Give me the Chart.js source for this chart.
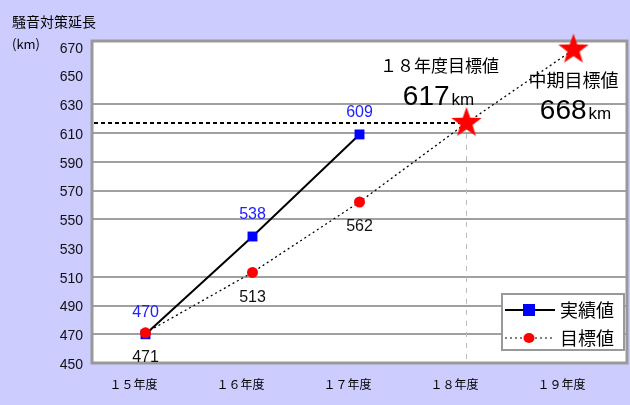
<!DOCTYPE html>
<html>
<head>
<meta charset="utf-8">
<script src="https://cdn.jsdelivr.net/npm/chart.js@4/dist/chart.umd.min.js"></script>
<style>
    html, body { margin: 0; padding: 0; background: #ccccff; }
    canvas { display: block; }
</style>
</head>
<body>
<canvas id="noiseChart" width="630" height="405"></canvas>
<script>
const years = ['１５年度', '１６年度', '１７年度', '１８年度', '１９年度'];
const actualValues = [470, 538, 609, null, null];
const targetValues = [471, 513, 562, 617, 668];
const yTicks = [450, 470, 490, 510, 530, 550, 570, 590, 610, 630, 650, 670];
const hiddenGrid = [450, 530, 650, 670];

const JP = '"Noto Sans CJK JP", sans-serif';
const NUM = '"Liberation Sans", Arial, sans-serif';

// filled red star used for the 18/19 target points
function makeStar(r, color) {
    const c = document.createElement('canvas');
    const size = Math.ceil(r * 2) + 2;
    c.width = c.height = size;
    const ctx = c.getContext('2d');
    ctx.fillStyle = color;
    ctx.beginPath();
    for (let i = 0; i < 10; i++) {
        const rad = i % 2 === 0 ? r : r * 0.4;
        const a = -Math.PI / 2 + i * Math.PI / 5;
        ctx.lineTo(size / 2 + rad * Math.cos(a), size / 2 + rad * Math.sin(a));
    }
    ctx.closePath();
    ctx.fill();
    return c;
}
const star = makeStar(16, '#ff0000');

// white plot area + gray frame
const plotFrame = {
    id: 'plotFrame',
    beforeDraw(chart) {
        const { ctx, chartArea: a } = chart;
        ctx.save();
        ctx.fillStyle = '#ffffff';
        ctx.fillRect(a.left, a.top, a.right - a.left, a.bottom - a.top);
        ctx.restore();
    },
    beforeDatasetsDraw(chart) {
        const { ctx, chartArea: a, scales } = chart;
        ctx.save();
        // guide lines for the 18年度 target
        const x18 = scales.x.getPixelForValue(3);
        const y617 = scales.y.getPixelForValue(targetValues[3]);
        ctx.strokeStyle = '#bbbbbb';
        ctx.lineWidth = 1;
        ctx.setLineDash([5, 6]);
        ctx.beginPath();
        ctx.moveTo(x18, y617);
        ctx.lineTo(x18, a.bottom);
        ctx.stroke();

        ctx.strokeStyle = '#999999';
        ctx.lineWidth = 3;
        ctx.setLineDash([]);
        ctx.strokeRect(a.left, a.top, a.right - a.left, a.bottom - a.top);

        ctx.strokeStyle = '#000000';
        ctx.lineWidth = 2;
        ctx.setLineDash([4, 3]);
        ctx.beginPath();
        ctx.moveTo(a.left + 2, y617);
        ctx.lineTo(x18, y617);
        ctx.stroke();
        ctx.restore();
    }
};

// value labels, notes and the legend box
const textLayer = {
    id: 'textLayer',
    afterDatasetsDraw(chart) {
        const { ctx, chartArea: a } = chart;
        const actualMeta = chart.getDatasetMeta(0);
        const targetMeta = chart.getDatasetMeta(1);
        ctx.save();
        ctx.textAlign = 'center';
        ctx.textBaseline = 'middle';
        ctx.font = '16px ' + NUM;

        ctx.fillStyle = '#2020ff';
        actualValues.forEach((v, i) => {
            if (v == null) return;
            const p = actualMeta.data[i];
            ctx.fillText(String(v), p.x, p.y - 22);
        });
        ctx.fillStyle = '#111111';
        targetValues.slice(0, 3).forEach((v, i) => {
            const p = targetMeta.data[i];
            ctx.fillText(String(v), p.x, p.y + 25);
        });

        // target notes
        const s18 = targetMeta.data[3];
        const s19 = targetMeta.data[4];
        ctx.fillStyle = '#000000';
        ctx.font = '17px ' + JP;
        ctx.fillText('１８年度目標値', s18.x - 27, s18.y - 57);
        ctx.font = '18px ' + JP;
        ctx.fillText('中期目標値', s19.x, s19.y + 31);

        drawValueKm(ctx, targetValues[3], s18.x - 28, s18.y - 18);
        drawValueKm(ctx, targetValues[4], s19.x + 2, s19.y + 69);

        // legend
        const lx = a.right - 125, ly = a.bottom - 69, lw = 122, lh = 56;
        ctx.fillStyle = '#ffffff';
        ctx.fillRect(lx, ly, lw, lh);
        ctx.strokeStyle = '#999999';
        ctx.lineWidth = 2;
        ctx.strokeRect(lx, ly, lw, lh);

        const r1 = ly + 16, r2 = ly + 44;
        ctx.strokeStyle = '#000000';
        ctx.lineWidth = 2;
        ctx.beginPath();
        ctx.moveTo(lx + 3, r1);
        ctx.lineTo(lx + 53, r1);
        ctx.stroke();
        ctx.fillStyle = '#0000ff';
        ctx.fillRect(lx + 21, r1 - 6, 12, 12);

        ctx.lineWidth = 1;
        ctx.setLineDash([2, 3]);
        ctx.beginPath();
        ctx.moveTo(lx + 3, r2);
        ctx.lineTo(lx + 53, r2);
        ctx.stroke();
        ctx.setLineDash([]);
        ctx.fillStyle = '#ff0000';
        ctx.beginPath();
        ctx.ellipse(lx + 27, r2, 5.5, 5, 0, 0, Math.PI * 2);
        ctx.fill();

        ctx.fillStyle = '#000000';
        ctx.font = '18px ' + JP;
        ctx.textAlign = 'left';
        ctx.fillText('実績値', lx + 58, r1);
        ctx.fillText('目標値', lx + 58, r2);
        ctx.restore();
    }
};

function drawValueKm(ctx, value, cx, baseline) {
    const num = String(value);
    ctx.save();
    ctx.textBaseline = 'alphabetic';
    ctx.textAlign = 'left';
    ctx.font = '28px ' + NUM;
    const w1 = ctx.measureText(num).width;
    ctx.font = '17px ' + NUM;
    const w2 = ctx.measureText('km').width;
    const x0 = cx - (w1 + w2 + 2) / 2;
    ctx.font = '28px ' + NUM;
    ctx.fillText(num, x0, baseline);
    ctx.font = '17px ' + NUM;
    ctx.fillText('km', x0 + w1 + 2, baseline);
    ctx.restore();
}

// axis title top-left
const axisTitle = {
    id: 'axisTitle',
    afterDraw(chart) {
        const { ctx } = chart;
        ctx.save();
        ctx.fillStyle = '#000000';
        ctx.textAlign = 'left';
        ctx.textBaseline = 'middle';
        ctx.font = '14px ' + JP;
        ctx.fillText('騒音対策延長', 12, 22);
        ctx.font = '13px ' + JP;
        ctx.fillText('(km)', 12, 44);
        ctx.restore();
    }
};

new Chart(document.getElementById('noiseChart'), {
    type: 'line',
    data: {
        labels: years,
        datasets: [
            {
                label: '実績値',
                data: actualValues,
                order: 1,
                borderColor: '#000000',
                borderWidth: 2,
                pointStyle: 'rect',
                pointRadius: 7,
                pointBackgroundColor: '#0000ff',
                pointBorderColor: '#0000ff',
                pointBorderWidth: 0,
                clip: false
            },
            {
                label: '目標値',
                data: targetValues,
                order: 0,
                borderColor: '#000000',
                borderWidth: 1.3,
                borderDash: [2, 3],
                pointStyle: ['circle', 'circle', 'circle', star, star],
                pointRadius: [5.5, 5.5, 5.5, 16, 16],
                pointBackgroundColor: '#ff0000',
                pointBorderColor: '#ff0000',
                pointBorderWidth: 0,
                clip: false
            }
        ]
    },
    options: {
        responsive: false,
        animation: false,
        devicePixelRatio: 1,
        layout: { autoPadding: false, padding: { top: 41, right: 3, left: 0, bottom: 0 } },
        plugins: {
            legend: { display: false },
            tooltip: { enabled: false }
        },
        scales: {
            x: {
                offset: true,
                grid: { display: false, drawTicks: false },
                border: { display: false },
                ticks: {
                    color: '#000000',
                    font: { family: JP, size: 12 },
                    padding: 14,
                    labelOffset: -12,
                    maxRotation: 0
                },
                afterFit(scale) {
                    scale.height = 42;
                    scale.paddingLeft = 0;
                    scale.paddingRight = 0;
                }
            },
            y: {
                min: 450,
                max: 674,
                afterBuildTicks(scale) {
                    scale.ticks = yTicks.map(v => ({ value: v }));
                },
                grid: {
                    drawTicks: false,
                    lineWidth: 2,
                    color: ctx => hiddenGrid.includes(ctx.tick && ctx.tick.value) ? 'rgba(0,0,0,0)' : '#a0a0a0'
                },
                border: { display: false },
                ticks: {
                    color: '#111111',
                    font: { family: NUM, size: 14 },
                    padding: 9,
                    labelOffset: 2
                },
                afterFit(scale) { scale.width = 92; }
            }
        }
    },
    plugins: [plotFrame, textLayer, axisTitle]
});
</script>
</body>
</html>
